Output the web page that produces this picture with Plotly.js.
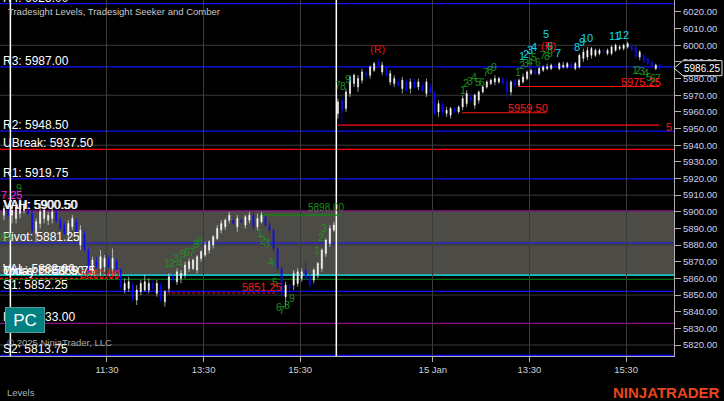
<!DOCTYPE html>
<html><head><meta charset="utf-8">
<script src="https://cdn.plot.ly/plotly-3.0.1.min.js"></script>
<style>html,body{margin:0;padding:0;background:#000;}#chart{width:724px;height:401px;}</style>
</head><body><div id="chart"></div>
<script>
// ---------- DATA (5-minute bars) ----------
const prevOpen  = [5898, 5901];
const prevHigh  = [5904, 5905];
const prevLow   = [5895, 5896];
const prevClose = [5902, 5898];

const d1Open  = [5898,5896,5899,5901,5906,5899,5887,5893,5896,5895,5896,5900,5895,5892,5886,5891,5894,5880,5887,5877,5865,5870,5866,5867,5872,5866,5870,5865,5853,5854,5856,5847,5852,5853,5853,5857,5851,5856,5846,5854,5861,5858,5860,5862,5866,5866,5865,5872,5874,5877,5880,5884,5889,5891,5895,5895,5891,5895,5892,5895,5898,5891,5894,5897,5892,5889,5878,5866,5849,5856,5856,5857,5860,5865,5861,5859,5862,5866,5875,5881,5889];
const d1High  = [5903,5905,5908,5906,5908,5901,5896,5903,5904,5900,5902,5902,5897,5894,5895,5898,5896,5892,5889,5879,5873,5873,5877,5874,5874,5878,5872,5866,5860,5861,5858,5856,5859,5862,5860,5859,5859,5858,5853,5863,5863,5866,5865,5870,5872,5872,5874,5877,5882,5883,5886,5892,5895,5896,5900,5897,5898,5896,5898,5900,5900,5899,5900,5898,5894,5890,5879,5867,5858,5857,5865,5866,5866,5870,5863,5866,5870,5878,5884,5892,5894];
const d1Low   = [5893,5893,5896,5899,5898,5887,5882,5890,5893,5892,5893,5893,5889,5886,5883,5889,5887,5877,5876,5863,5863,5866,5862,5864,5866,5862,5864,5853,5851,5852,5846,5844,5850,5852,5851,5852,5849,5846,5843,5852,5858,5856,5857,5860,5864,5865,5863,5870,5873,5875,5878,5883,5887,5889,5893,5892,5888,5893,5890,5893,5889,5889,5893,5891,5887,5876,5864,5848,5843,5846,5853,5855,5858,5859,5854,5857,5860,5864,5873,5879,5888];
const d1Close = [5901,5903,5905,5904,5899,5889,5894,5900,5901,5898,5900,5895,5890,5887,5893,5896,5888,5889,5877,5865,5871,5867,5873,5872,5867,5872,5865,5855,5857,5858,5848,5853,5857,5858,5857,5854,5857,5847,5852,5861,5859,5864,5863,5868,5870,5871,5873,5876,5880,5882,5885,5890,5893,5895,5898,5893,5896,5894,5897,5898,5891,5896,5898,5892,5889,5878,5866,5850,5856,5854,5863,5864,5864,5860,5856,5865,5869,5877,5883,5890,5892];

const d2Open  = [5959,5967,5962,5971,5977,5975,5979,5983,5982,5985,5990,5984,5986,5978,5977,5978,5974,5978,5974,5978,5975,5976,5971,5975,5971,5960,5964,5959,5958,5962,5960,5963,5965,5969,5964,5967,5972,5975,5977,5978,5978,5980,5978,5972,5979,5976,5978,5980,5983,5985,5983,5985,5986,5986,5988,5986,5987,5987,5989,5986,5987,5992,5993,5994,5994,5995,5997,5995,5995,5997,5998,5998,5999,6000,5999,5993,5994,5992,5990,5986,5988];
const d2High  = [5968,5969,5974,5982,5983,5982,5986,5985,5988,5990,5992,5990,5988,5985,5982,5980,5981,5980,5980,5980,5980,5978,5980,5977,5973,5967,5966,5963,5963,5963,5964,5970,5973,5971,5971,5973,5976,5979,5980,5982,5981,5981,5980,5979,5980,5980,5983,5985,5986,5986,5987,5988,5989,5989,5989,5990,5990,5990,5990,5990,5995,5998,5999,5999,5998,5998,5998,5998,6000,6001,6000,6001,6002,6001,6000,5997,5995,5993,5991,5989,5989];
const d2Low   = [5956,5952,5960,5969,5975,5972,5977,5980,5980,5984,5987,5982,5981,5976,5975,5975,5971,5972,5971,5974,5973,5972,5969,5971,5958,5957,5958,5957,5956,5959,5959,5961,5963,5966,5962,5965,5971,5974,5976,5976,5977,5976,5968,5970,5975,5975,5977,5979,5982,5982,5982,5984,5985,5985,5986,5985,5986,5986,5986,5985,5986,5990,5991,5992,5993,5994,5995,5994,5994,5996,5997,5997,5998,5996,5992,5991,5989,5988,5986,5985,5985];
const d2Close = [5966,5961,5972,5981,5982,5980,5984,5982,5987,5989,5988,5988,5982,5983,5980,5976,5979,5973,5978,5975,5978,5973,5978,5972,5959,5965,5960,5961,5962,5960,5963,5968,5971,5967,5970,5972,5975,5978,5979,5980,5980,5977,5972,5978,5976,5979,5981,5984,5985,5983,5986,5987,5987,5988,5987,5989,5988,5989,5987,5989,5994,5996,5997,5998,5997,5997,5996,5997,5999,6000,5999,6000,6001,5997,5993,5996,5990,5989,5987,5988,5986.25];

const tickMinutes = [120, 240, 360, 525, 645, 765];
const tickLabels  = ['11:30', '13:30', '15:30', '15 Jan', '13:30', '15:30'];

const levelNames  = ['R4','R3','R2','UBreak','R1','VAH','VAH','Pivot','VAL','Close','Today L','S1','Low','S2'];
const levelValues = [6025.00,5987.00,5948.50,5937.50,5919.75,5900.50,5900.50,5881.25,5862.00,5859.50,5859.75,5852.25,5833.00,5813.75];
const lineValues  = [6025.00,5987.00,5948.50,5937.50,5919.75,5900.50,5881.25,5862.00,5859.50,5852.25,5833.00,5813.75];
const lineKinds   = ['R','R','R','U','R','V','R','C','G','R','V','R'];

// short levels: [value, fromMinute, toMinute, kind]
const shortLevels = [[5952.00,407,806,'red'],[5959.50,561,666,'red'],[5975.25,631,806,'red'],[5860.00,-13,134,'reddash'],[5851.25,195,333,'reddash'],[5898.00,310,410,'green']];
const priceTags = [['5959.50',643,5962.3],['5975.25',784,5978],['5851.25',313,5855],['5860.00',111,5862.6],['5',818,5950.9]];

// Seeker / Comber counts: [minute, price, text]
const greenCounts = [
 [10.7,5914.3,'9'],[-5,5884.6,'89'],
 [195,5869.1,'1'],[200.4,5869.4,'2'],[205.4,5872.1,'3'],[210.8,5869.4,'4'],[214.9,5874.6,'5'],[219.8,5875.6,'6'],[225.3,5876,'7'],[230.3,5880.6,'8'],[235.6,5882.4,'9'],
 [310.2,5887.3,'1'],[313.9,5883.1,'2'],[319.3,5881.1,'3'],[323.8,5869.8,'4'],[328.8,5857.8,'5'],[333.8,5842.8,'6'],[337.5,5841,'7'],[343.7,5844,'8'],[349.9,5848.2,'9'],
 [380.6,5877.1,'1'],[386,5884.7,'2'],[390.1,5890,'3'],
 [407,5976.2,'7'],[413.3,5975.6,'8'],[419.5,5979.8,'9'],
 [562.4,5973.2,'1'],[566.2,5977.4,'2'],[571.2,5978.6,'3'],[576.2,5981,'4'],[581.1,5978,'5'],[586.1,5978,'6'],[591.1,5984,'7'],[596,5985.2,'8'],[601,5987,'9'],
 [630.8,5984,'1'],[635.8,5988.2,'2'],[640.7,5989.4,'3'],[645.7,5990,'4'],[650.7,5993,'5'],[655.6,5990,'6'],[661.9,5994.2,'7'],[666.9,5993.6,'8'],[670.6,5995.4,'9'],
 [776.2,5985.2,'1'],[780,5985.2,'2'],[784.9,5984.6,'3'],[789.9,5983.4,'4'],[793.6,5981,'5'],[798.6,5980.4,'6'],[804.8,5980.4,'7']
];
const cyanCounts = [
 [635.8,5993.6,'1'],[640.7,5994.8,'2'],[645.7,5997.2,'3'],[650.7,5999,'4'],[665.6,6006.8,'5'],[670.6,5999.6,'6'],[680.5,5995.4,'7'],
 [704.1,5999,'8'],[710.3,6002,'9'],[716.5,6004.4,'10'],[750.1,6005.6,'11'],[761.3,6006.2,'12']
];
const reversals = [[455.6,5997.8,'(R)'],[668.1,5999.6,'(R)']];
const lastPrice = 5986.25;

// ---------- BUILD ----------
const DAY = 405;
const X0 = -12.9, X1 = 824.6, Y0 = 5813.4, Y1 = 6027.2;
const barX = (day, k) => day * DAY + 2 + 5 * k;
const xs = [], o = [], h = [], l = [], c = [];
prevOpen.forEach((v, i) => { xs.push(barX(0, i - prevOpen.length)); o.push(v); h.push(prevHigh[i]); l.push(prevLow[i]); c.push(prevClose[i]); });
d1Open.forEach((v, i) => { xs.push(barX(0, i)); o.push(v); h.push(d1High[i]); l.push(d1Low[i]); c.push(d1Close[i]); });
d2Open.forEach((v, i) => { xs.push(barX(1, i)); o.push(v); h.push(d2High[i]); l.push(d2Low[i]); c.push(d2Close[i]); });

const FONT = 'Arial, "Liberation Sans", sans-serif';
const kindColor = {R:'#1010ff', U:'#ff0000', V:'#8a108a', C:'#00ffff', G:'#108a10'};

const shapes = [];
shapes.push({type:'rect', xref:'paper', x0:0, x1:1, yref:'y', y0:5862.00, y1:5900.50, fillcolor:'#4c4b46', line:{width:0}, layer:'below'});
for (let v = 5820; v <= 6020; v += 30) shapes.push({type:'line', xref:'paper', x0:0, x1:1, yref:'y', y0:v, y1:v, line:{color:'#3a3a3a', width:1}, layer:'between'});
lineValues.forEach((v, i) => shapes.push({type:'line', xref:'paper', x0:0, x1:1, yref:'y', y0:v, y1:v, line:{color:kindColor[lineKinds[i]], width:1.2}, layer:'between'}));
shortLevels.forEach(s => {
  const col = s[3] === 'green' ? '#108a10' : '#ff1010';
  shapes.push({type:'line', xref:'x', x0:s[1], x1:s[2], yref:'y', y0:s[0], y1:s[0], line:{color:col, width:1.2, dash:s[3]==='reddash'?'3px,2px':'solid'}, layer:'between'});
});
[0, DAY].forEach(x => shapes.push({type:'line', xref:'x', x0:x, x1:x, yref:'paper', y0:0, y1:1, line:{color:'#ffffff', width:1.5}, layer:'between'}));
const PW = 674, PH = 356;
const yp = (lastPrice - Y0) / (Y1 - Y0);
const dy = 7.5 / PH;
shapes.push({type:'path', xref:'paper', yref:'paper',
  path:`M 1 ${yp} L ${1+9/PW} ${yp+dy} L ${1+48/PW} ${yp+dy} L ${1+48/PW} ${yp-dy} L ${1+9/PW} ${yp-dy} Z`,
  fillcolor:'#000', line:{color:'#e0e0e0', width:1}, layer:'above'});

const ann = [];
ann.push({xref:'paper', yref:'paper', x:6/PW, y:1-11/PH, xanchor:'left', yanchor:'middle', text:'Tradesight Levels, Tradesight Seeker and Comber', showarrow:false, font:{family:FONT, size:9.5, color:'#c8c8c8'}});
levelNames.forEach((n, i) => {
  const v = levelValues[i];
  ann.push({xref:'paper', x:0, xshift:(i===6?2:1), xanchor:'left', yref:'y', y:v, yshift:(n==='Close'||n==='Today L'?8:6), yanchor:'middle',
    text:`${n}: ${v.toFixed(2)}`, showarrow:false, font:{family:FONT, size:12, color:'#ffffff'}});
});
greenCounts.forEach(g => ann.push({xref:'x', yref:'y', x:g[0], y:g[1], text:g[2], showarrow:false, font:{family:FONT, size:10.5, color:'#1f8f1f'}}));
cyanCounts.forEach(g => ann.push({xref:'x', yref:'y', x:g[0], y:g[1], text:g[2], showarrow:false, font:{family:FONT, size:11, color:'#10d8ee'}}));
reversals.forEach(g => ann.push({xref:'x', yref:'y', x:g[0], y:g[1], text:g[2], showarrow:false, font:{family:FONT, size:11, color:'#e01010'}}));
priceTags.forEach(g => ann.push({xref:'x', yref:'y', x:g[1], y:g[2], text:g[0], showarrow:false, font:{family:FONT, size:11, color:'#ff1a1a'}}));
ann.push({xref:'x', yref:'y', x:393.4, y:5902.3, text:'5898.00', showarrow:false, font:{family:FONT, size:10, color:'#1f8f1f'}});
ann.push({xref:'paper', yref:'y', x:0, xshift:-1, xanchor:'left', y:5910.1, text:'7.25', showarrow:false, font:{family:FONT, size:11, color:'#ff20ff'}});
ann.push({xref:'paper', yref:'paper', x:5/PW, y:1-342/PH, xanchor:'left', yanchor:'middle', text:'© 2025 NinjaTrader, LLC', showarrow:false, font:{family:FONT, size:9.5, color:'#a8a8a8'}});
ann.push({xref:'paper', yref:'paper', x:25/PW, y:1-320/PH, xanchor:'center', yanchor:'middle', width:38, height:24, bgcolor:'#008080', bordercolor:'#4f9a9a', borderwidth:1, borderpad:0,
  text:'PC', showarrow:false, font:{family:FONT, size:17, color:'#ffffff'}});
ann.push({xref:'paper', yref:'paper', x:1+28/PW, y:yp, xanchor:'center', yanchor:'middle', text:lastPrice.toFixed(2), showarrow:false, font:{family:FONT, size:10, color:'#ffffff'}});
ann.push({xref:'paper', yref:'paper', x:5/PW, y:-36/PH, xanchor:'left', yanchor:'middle', text:'Levels', showarrow:false, font:{family:FONT, size:9.5, color:'#b0b0b0'}});
ann.push({xref:'paper', yref:'paper', x:1+48/PW, y:-36/PH, xanchor:'right', yanchor:'middle', text:'<b>NINJATRADER</b>', showarrow:false, font:{family:FONT, size:15, color:'#e8461c'}});

const trace = {type:'candlestick', x:xs, open:o, high:h, low:l, close:c,
  increasing:{line:{color:'#ffffff', width:0.6}, fillcolor:'#ffffff'},
  decreasing:{line:{color:'#0a0aff', width:0.6}, fillcolor:'#0a0aff'},
  whiskerwidth:0, hoverinfo:'skip', showlegend:false};

const layout = {
  width:724, height:401, margin:{l:0, r:50, t:0, b:45},
  paper_bgcolor:'#000', plot_bgcolor:'#000', showlegend:false,
  font:{family:FONT}, boxgap:0.6,
  xaxis:{range:[X0, X1], tickmode:'array', tickvals:tickMinutes, ticktext:tickLabels, showgrid:true, gridcolor:'#3a3a3a',
    ticks:'outside', ticklen:5, tickcolor:'#b0b0b0', showline:true, linecolor:'#b0b0b0', zeroline:false,
    rangeslider:{visible:false}, tickfont:{size:9.5, color:'#d0d0d0'}, fixedrange:true},
  yaxis:{side:'right', range:[Y0, Y1], tick0:0, dtick:10, tickformat:'.2f', showgrid:false, ticks:'outside', ticklen:6,
    tickcolor:'#b0b0b0', showline:true, linecolor:'#b0b0b0', zeroline:false, tickfont:{size:9.5, color:'#ccd0ee'}, fixedrange:true},
  shapes:shapes, annotations:ann
};
Plotly.newPlot('chart', [trace], layout, {displayModeBar:false, staticPlot:true});
</script></body></html>
